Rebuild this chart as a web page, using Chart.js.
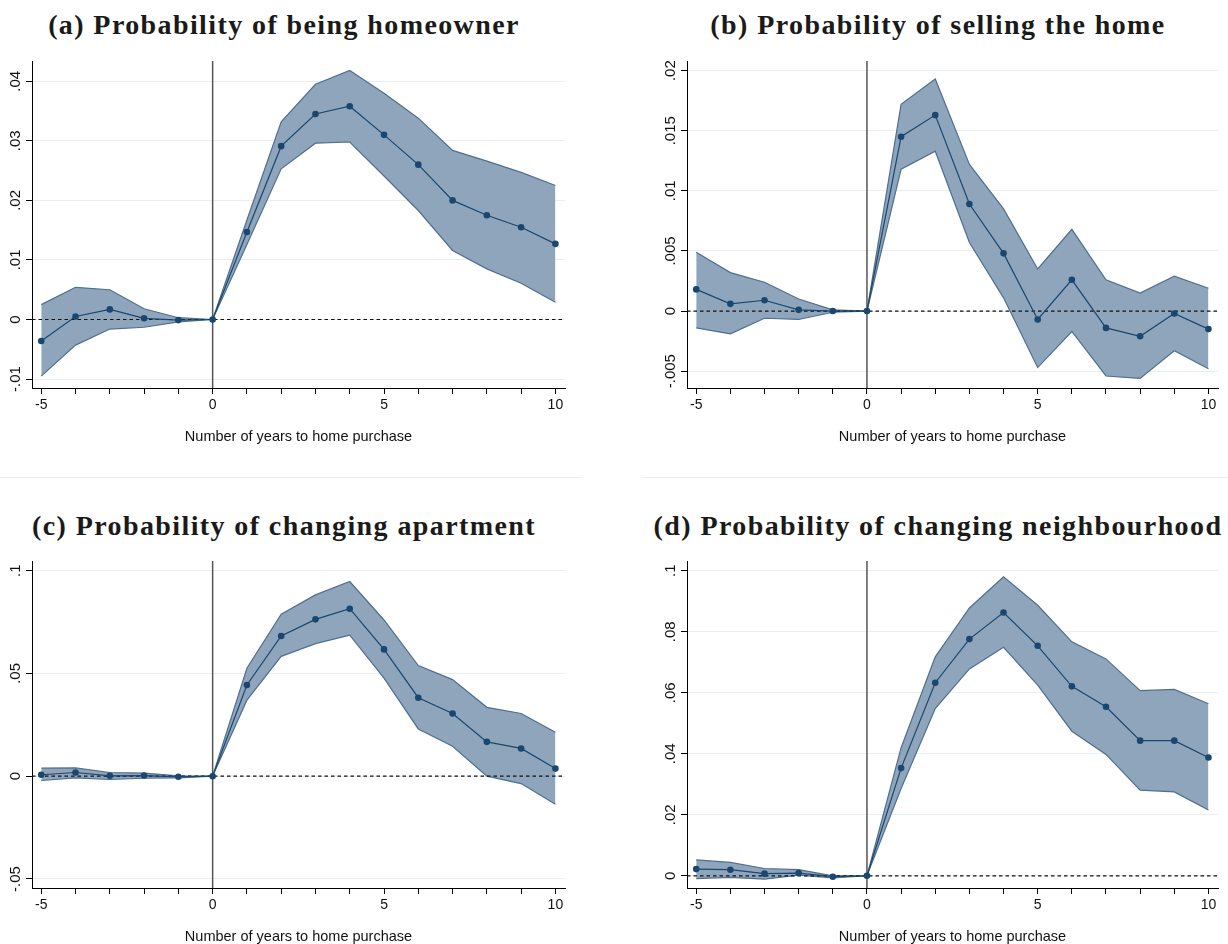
<!DOCTYPE html>
<html lang="en">
<head>
  <meta charset="UTF-8" />
  <title>Event study: home purchase</title>
  <script src="https://cdn.jsdelivr.net/npm/chart.js"></script>
  <style>
    body {
      margin: 0;
      background: #fff;
      width: 1228px;
      height: 944px;
      overflow: hidden;
      position: relative;
    }
    .panel {
      position: absolute;
    }
    .ttl {
      position: absolute;
      text-align: center;
      white-space: nowrap;
      font-family: 'Liberation Serif', serif;
      font-weight: bold;
      font-size: 28px;
      line-height: 28px;
      letter-spacing: 1.4px;
      color: #1a1a1a;
    }
    .sep {
      position: absolute;
      top: 477px;
      height: 1px;
      background: #ececec;
    }
  </style>
</head>
<body>
  <div class="ttl" style="left:0; top:11px; width:568px;">(a) Probability of being homeowner</div>
  <div class="ttl" style="left:648px; top:11px; width:580px;">(b) Probability of selling the home</div>
  <div class="ttl" style="left:0; top:512px; width:568px;">(c) Probability of changing apartment</div>
  <div class="ttl" style="left:648px; top:512px; width:580px;">(d) Probability of changing neighbourhood</div>

  <div class="sep" style="left:0; width:581px;"></div>
  <div class="sep" style="left:643px; width:585px;"></div>

  <canvas class="panel" id="chartA" width="600" height="410" style="left:0; top:50px;"></canvas>
  <canvas class="panel" id="chartB" width="573" height="410" style="left:655px; top:50px;"></canvas>
  <canvas class="panel" id="chartC" width="600" height="410" style="left:0; top:550px;"></canvas>
  <canvas class="panel" id="chartD" width="573" height="410" style="left:655px; top:550px;"></canvas>

  <script>
    // years relative to purchase
    const years = [-5, -4, -3, -2, -1, 0, 1, 2, 3, 4, 5, 6, 7, 8, 9, 10];
    const xLabelYears = [-5, 0, 5, 10];

    // (a) homeowner
    const meanA  = [-0.0036, 0.0005, 0.0017, 0.0002, -0.0001, 0, 0.0147, 0.0291, 0.0345, 0.0358, 0.0310, 0.0260, 0.0200, 0.0175, 0.0155, 0.0127];
    const upperA = [0.0025, 0.0054, 0.0050, 0.0018, 0.0003, 0, 0.0167, 0.0332, 0.0395, 0.0418, 0.0380, 0.0338, 0.0284, 0.0266, 0.0247, 0.0225];
    const lowerA = [-0.0095, -0.0043, -0.0016, -0.0013, -0.0004, 0, 0.0126, 0.0253, 0.0296, 0.0298, 0.0241, 0.0183, 0.0116, 0.0085, 0.0061, 0.0029];
    const yTicksA  = [-0.01, 0, 0.01, 0.02, 0.03, 0.04];
    const yLabelsA = ['-.01', '0', '.01', '.02', '.03', '.04'];

    // (b) selling
    const meanB  = [0.0018, 0.0006, 0.0009, 0.0001, 0, 0, 0.0145, 0.0163, 0.0089, 0.0048, -0.0007, 0.0026, -0.0014, -0.0021, -0.0002, -0.0015];
    const upperB = [0.0049, 0.0032, 0.0024, 0.0010, 0.0001, 0, 0.0172, 0.0193, 0.0122, 0.0085, 0.0035, 0.0068, 0.0026, 0.0015, 0.0029, 0.0019];
    const lowerB = [-0.0014, -0.0019, -0.0006, -0.0007, -0.0001, 0, 0.0118, 0.0133, 0.0057, 0.0011, -0.0047, -0.0017, -0.0054, -0.0056, -0.0033, -0.0048];
    const yTicksB  = [-0.005, 0, 0.005, 0.01, 0.015, 0.02];
    const yLabelsB = ['-.005', '0', '.005', '.01', '.015', '.02'];

    // (c) changing apartment
    const meanC  = [0.0007, 0.0018, 0.0002, 0.0003, -0.0003, 0, 0.0444, 0.0682, 0.0763, 0.0815, 0.0617, 0.0382, 0.0305, 0.0167, 0.0135, 0.0037];
    const upperC = [0.0039, 0.0040, 0.0018, 0.0015, 0.0002, 0, 0.0525, 0.0788, 0.0882, 0.0947, 0.0760, 0.0538, 0.0470, 0.0335, 0.0305, 0.0214];
    const lowerC = [-0.0021, -0.0008, -0.0016, -0.0010, -0.0008, 0, 0.0370, 0.0583, 0.0645, 0.0686, 0.0477, 0.0230, 0.0146, 0.0000, -0.0036, -0.0136];
    const yTicksC  = [-0.05, 0, 0.05, 0.1];
    const yLabelsC = ['-.05', '0', '.05', '.1'];

    // (d) changing neighbourhood
    const meanD  = [0.0022, 0.0020, 0.0007, 0.0009, -0.0003, 0, 0.0353, 0.0633, 0.0776, 0.0863, 0.0754, 0.0621, 0.0554, 0.0443, 0.0443, 0.0388];
    const upperD = [0.0052, 0.0044, 0.0024, 0.0020, 0.0000, 0, 0.0420, 0.0718, 0.0878, 0.0980, 0.0887, 0.0767, 0.0711, 0.0607, 0.0611, 0.0564];
    const lowerD = [-0.0009, -0.0005, -0.0011, 0.0002, -0.0007, 0, 0.0286, 0.0548, 0.0678, 0.0749, 0.0625, 0.0474, 0.0398, 0.0281, 0.0275, 0.0216];
    const yTicksD  = [0, 0.02, 0.04, 0.06, 0.08, 0.1];
    const yLabelsD = ['0', '.02', '.04', '.06', '.08', '.1'];

    const NAVY = '#1a476f';
    const EDGE = '#4f6f8f';
    const BAND = 'rgb(143,165,187)';
    const GRID = '#e7eff1';
    const TICK_LEN = 6;
    const Y_FONT = 15;
    const LABEL_GAP = 16.5;   // axis line to centre of rotated y labels

    // y labels are rotated and centred, so padding depends on the widest label
    function yPadFor(labels) {
      const c = document.createElement('canvas').getContext('2d');
      c.font = Y_FONT + 'px "Liberation Sans"';
      const widest = Math.max(...labels.map(t => c.measureText(t).width));
      return LABEL_GAP - TICK_LEN - widest / 2;
    }

    const toXY = arr => arr.map((v, i) => ({ x: years[i], y: v }));

    // zero reference lines, drawn over the band but under the point estimates
    const refLines = {
      id: 'refLines',
      beforeDatasetDraw(chart, args) {
        if (args.index !== 0) return;
        const { ctx, chartArea: a, scales: { x, y } } = chart;
        ctx.save();
        const x0 = x.getPixelForValue(0);
        ctx.strokeStyle = '#555';
        ctx.lineWidth = 1.5;
        ctx.beginPath();
        ctx.moveTo(x0, a.top);
        ctx.lineTo(x0, a.bottom);
        ctx.stroke();
        const y0 = y.getPixelForValue(0);
        ctx.strokeStyle = '#111';
        ctx.lineWidth = 1.2;
        ctx.setLineDash([3.5, 3]);
        ctx.beginPath();
        ctx.moveTo(a.left, y0);
        ctx.lineTo(a.right, y0);
        ctx.stroke();
        ctx.restore();
      }
    };

    function makeChart(id, mean, upper, lower, yTicks, yLabels, yMin, yMax, padRight) {
      return new Chart(document.getElementById(id), {
        type: 'line',
        data: {
          datasets: [
            {
              data: toXY(mean), borderColor: NAVY, borderWidth: 1.2,
              pointRadius: 3.3, pointBackgroundColor: NAVY, pointBorderWidth: 0,
              fill: false
            },
            {
              data: toXY(upper), borderColor: EDGE, borderWidth: 1.2,
              pointRadius: 0, fill: '+1', backgroundColor: BAND
            },
            {
              data: toXY(lower), borderColor: EDGE, borderWidth: 1.2,
              pointRadius: 0, fill: false
            }
          ]
        },
        options: {
          responsive: false,
          animation: false,
          devicePixelRatio: 1,
          layout: { padding: { top: 11, right: padRight, left: 0, bottom: 0 } },
          plugins: {
            legend: { display: false },
            tooltip: { enabled: false },
            filler: { drawTime: 'beforeDatasetsDraw' }
          },
          scales: {
            x: {
              type: 'linear',
              min: -5.27,
              max: 10.28,
              afterBuildTicks: s => { s.ticks = years.map(v => ({ value: v })); },
              afterFit: s => { s.height = 72; },
              ticks: {
                autoSkip: false,
                maxRotation: 0,
                padding: 2.5,
                color: '#111',
                font: { family: 'Liberation Sans', size: 14 },
                callback: v => xLabelYears.includes(v) ? String(v) : ''
              },
              grid: {
                drawOnChartArea: false,
                tickLength: TICK_LEN,
                tickColor: '#000',
                color: '#000'
              },
              border: { display: true, color: '#000', width: 1 },
              title: {
                display: true,
                text: 'Number of years to home purchase',
                color: '#111',
                font: { family: 'Liberation Sans', size: 14.5 },
                padding: { top: 0, bottom: 14.5 }
              }
            },
            y: {
              type: 'linear',
              min: yMin,
              max: yMax,
              afterBuildTicks: s => { s.ticks = yTicks.map(v => ({ value: v })); },
              afterFit: s => { s.width = 32; },
              ticks: {
                minRotation: 90,
                maxRotation: 90,
                crossAlign: 'center',
                padding: yPadFor(yLabels),
                color: '#111',
                font: { family: 'Liberation Sans', size: Y_FONT },
                callback: (v, i) => yLabels[i]
              },
              grid: {
                color: GRID,
                tickLength: TICK_LEN,
                tickColor: '#000'
              },
              border: { display: true, color: '#000', width: 1 }
            }
          }
        },
        plugins: [refLines]
      });
    }

    makeChart('chartA', meanA, upperA, lowerA, yTicksA, yLabelsA, -0.0115, 0.0434, 35);
    makeChart('chartB', meanB, upperB, lowerB, yTicksB, yLabelsB, -0.0064, 0.0208, 10);
    makeChart('chartC', meanC, upperC, lowerC, yTicksC, yLabelsC, -0.0544, 0.1047, 35);
    makeChart('chartD', meanD, upperD, lowerD, yTicksD, yLabelsD, -0.0040, 0.1032, 10);
  </script>
</body>
</html>
